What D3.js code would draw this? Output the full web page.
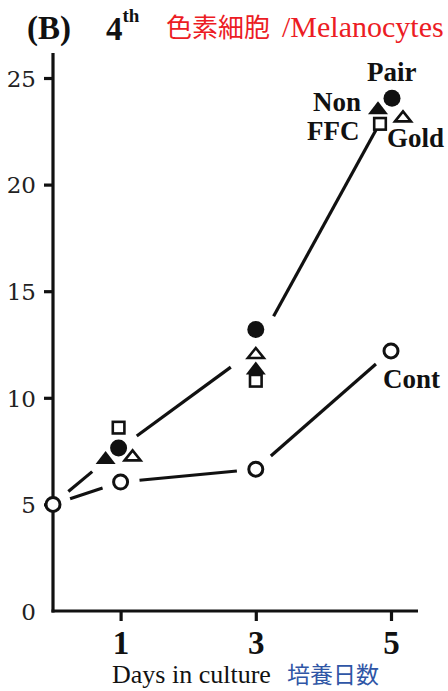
<!DOCTYPE html>
<html><head><meta charset="utf-8">
<script src="https://cdn.jsdelivr.net/npm/d3@7"></script>
<style>body{margin:0;background:#fff}svg{display:block}</style>
</head><body><svg id="c" width="448" height="691"></svg>
<script>
// ---- data ----
const days = [0, 1, 3, 5];
const treatDays = [1, 3, 5];
const yTicks = [0, 5, 10, 15, 20, 25];
const xTicks = [1, 3, 5];
const contValues = [5.0, 6.05, 6.65, 12.2];
const trendValues = [5.0, 7.65, 12.3, 23.85];
const pairValues = [7.65, 13.2, 24.05];
const nonValues = [7.2, 11.4, 23.6];
const goldValues = [7.3, 12.1, 23.2];
const ffcValues = [8.6, 10.8, 22.85];
const seriesLabels = ["Pair", "Non", "FFC", "Gold", "Cont"];

// ---- layout ----
const svg = d3.select("#c");
const x = d3.scaleLinear().domain([0, 5]).range([53, 391]);
const y = d3.scaleLinear().domain([0, 25]).range([611, 78]);
const ink = "#111";

// axes
const gy = svg.append("g").attr("transform", `translate(${x(0)},0)`)
  .call(d3.axisLeft(y).tickValues(yTicks).tickSize(9).tickPadding(8));
gy.select(".domain").remove();
gy.selectAll(".tick line").attr("stroke", ink).attr("stroke-width", 3.2);
gy.selectAll(".tick text").attr("font-family", "DejaVu Serif").attr("font-size", 23)
  .attr("fill", "#222").attr("dy", "0.36em");
gy.selectAll(".tick").filter(d => d === 0).select("line").remove();

const gx = svg.append("g").attr("transform", `translate(0,${y(0)})`)
  .call(d3.axisBottom(x).tickValues(xTicks).tickSize(10).tickFormat(d3.format("d")));
gx.select(".domain").remove();
gx.selectAll(".tick line").attr("stroke", ink).attr("stroke-width", 3.2);
gx.selectAll(".tick text").attr("font-family", "Liberation Serif").attr("font-weight", "bold")
  .attr("font-size", 33).attr("fill", ink).attr("y", 43).attr("dy", 0);

svg.append("line").attr("x1", x(0)).attr("x2", x(0)).attr("y1", 53).attr("y2", y(0) + 1.5)
  .attr("stroke", ink).attr("stroke-width", 3.2);
svg.append("line").attr("x1", x(0) - 1.5).attr("x2", 418).attr("y1", y(0)).attr("y2", y(0))
  .attr("stroke", ink).attr("stroke-width", 3.2);

// gapped polyline
function gapped(vals, startGaps, endGaps) {
  const pts = days.map((d, i) => [x(d), y(vals[i])]);
  for (let i = 0; i < pts.length - 1; i++) {
    const [x0, y0] = pts[i], [x1, y1] = pts[i + 1];
    const L = Math.hypot(x1 - x0, y1 - y0), ux = (x1 - x0) / L, uy = (y1 - y0) / L;
    svg.append("line")
      .attr("x1", x0 + ux * startGaps[i]).attr("y1", y0 + uy * startGaps[i])
      .attr("x2", x1 - ux * endGaps[i]).attr("y2", y1 - uy * endGaps[i])
      .attr("stroke", ink).attr("stroke-width", 3.2).attr("stroke-linecap", "butt");
  }
}
gapped(trendValues, [20, 20, 37], [37, 31, 31]);
gapped(contValues, [18, 19, 20], [19, 19, 20]);

// markers
function tri(w, h) {
  return `M${-w / 2},${h / 2}L0,${-h / 2}L${w / 2},${h / 2}Z`;
}
const dodge = { pair: [-2, 0, 1], non: [-15, 0, -13], gold: [12, 0, 12], ffc: [-2, 0, -11] };

svg.append("g").selectAll("circle").data(contValues).join("circle")
  .attr("cx", (d, i) => x(days[i])).attr("cy", d => y(d)).attr("r", 7)
  .attr("fill", "#fff").attr("stroke", ink).attr("stroke-width", 3);

svg.append("g").selectAll("rect").data(ffcValues).join("rect")
  .attr("x", (d, i) => x(treatDays[i]) + dodge.ffc[i] - 5.8).attr("y", d => y(d) - 5.8)
  .attr("width", 11.6).attr("height", 11.6)
  .attr("fill", "#fff").attr("stroke", ink).attr("stroke-width", 2.6);

svg.append("g").selectAll("path").data(goldValues).join("path")
  .attr("transform", (d, i) => `translate(${x(treatDays[i]) + dodge.gold[i]},${y(d)})`)
  .attr("d", tri(16, 10)).attr("fill", "#fff").attr("stroke", ink)
  .attr("stroke-width", 2.6).attr("stroke-linejoin", "miter");

svg.append("g").selectAll("path").data(nonValues).join("path")
  .attr("transform", (d, i) => `translate(${x(treatDays[i]) + dodge.non[i]},${y(d)})`)
  .attr("d", tri(20, 13)).attr("fill", ink);

svg.append("g").selectAll("circle").data(pairValues).join("circle")
  .attr("cx", (d, i) => x(treatDays[i]) + dodge.pair[i]).attr("cy", d => y(d)).attr("r", 8.5)
  .attr("fill", ink);

// series labels
const labelPos = [[367, 81], [313, 111], [307, 140], [387, 147], [383, 388]];
svg.append("g").selectAll("text").data(seriesLabels).join("text")
  .attr("x", (d, i) => labelPos[i][0]).attr("y", (d, i) => labelPos[i][1])
  .attr("font-family", "Liberation Serif").attr("font-weight", "bold")
  .attr("font-size", 27).attr("fill", ink).text(d => d);

// title
svg.append("text").attr("x", 27).attr("y", 39).attr("font-family", "Liberation Serif")
  .attr("font-weight", "bold").attr("font-size", 33).attr("fill", ink).text("(B)");
const t4 = svg.append("text").attr("x", 106).attr("y", 40).attr("font-family", "Liberation Serif")
  .attr("font-weight", "bold").attr("font-size", 33).attr("fill", ink);
t4.append("tspan").text("4");
t4.append("tspan").attr("font-size", 19).attr("dy", -18).text("th");

const tt = svg.append("text").attr("y", 37).attr("fill", "#ec1c24");
tt.append("tspan").attr("x", 166).attr("font-family", "Noto Sans CJK JP").attr("font-size", 26).text("色素細胞 ");
tt.append("tspan").attr("x", 282).attr("font-family", "Liberation Serif").attr("font-size", 30).text("/Melanocytes");

const xl = svg.append("text").attr("y", 683);
xl.append("tspan").attr("x", 112).attr("font-family", "Liberation Serif").attr("font-size", 26)
  .attr("fill", ink).text("Days in culture ");
xl.append("tspan").attr("x", 287).attr("font-family", "Noto Sans CJK JP").attr("font-size", 23)
  .attr("fill", "#2f56a6").text("培養日数");
</script></body></html>
